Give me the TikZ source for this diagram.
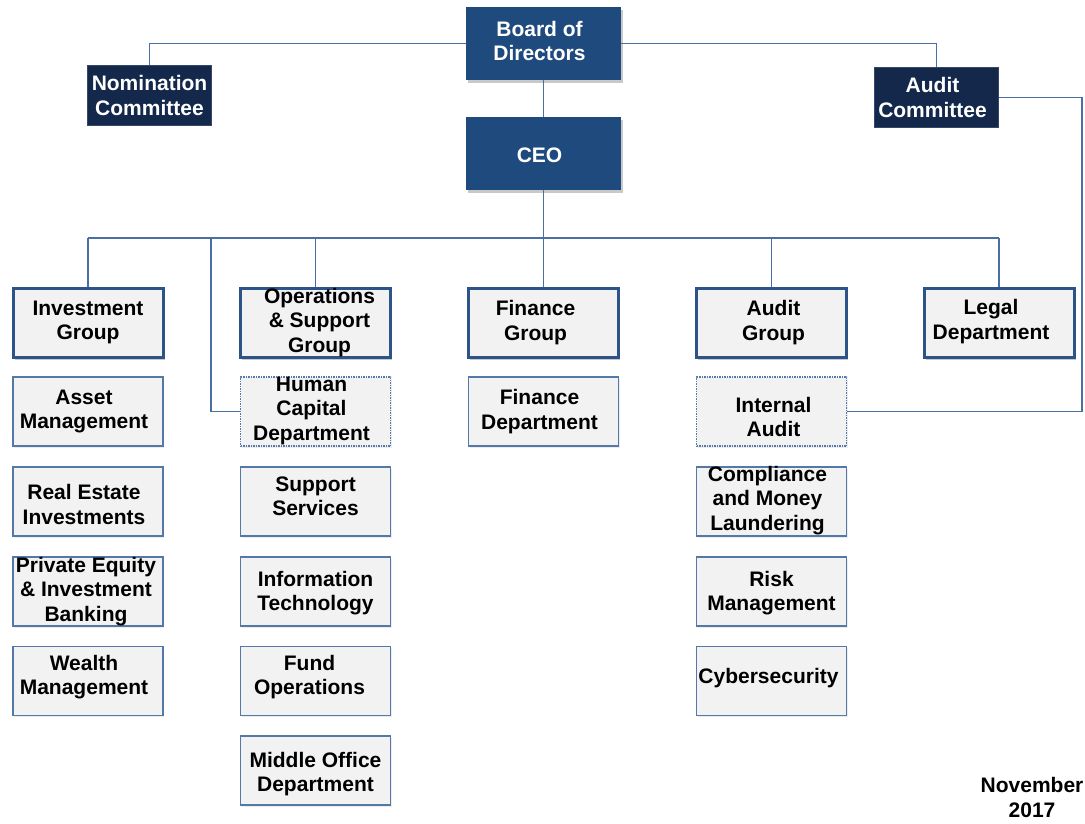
\documentclass[tikz,border=0pt]{standalone}
\usepackage{fontspec}
\setmainfont{Liberation Sans}
\usetikzlibrary{shadows}
\definecolor{bluedark}{HTML}{1F4A7E}
\definecolor{navy}{HTML}{13284A}
\definecolor{navyedge}{HTML}{34496A}
\definecolor{grpborder}{HTML}{2D5489}
\definecolor{thinborder}{HTML}{5479A8}
\definecolor{boxfill}{HTML}{F2F2F2}
\definecolor{linec}{HTML}{4A6FA5}
\begin{document}
\begin{tikzpicture}[x=1pt,y=-1pt,
  lbl/.style={align=center,font=\bfseries\fontsize{21}{24.5}\selectfont,inner sep=0pt,text=black},
  wlbl/.style={lbl,text=white},
  base/.style={rectangle,inner sep=0pt,minimum width=150pt,minimum height=69pt},
  shad/.style={drop shadow={shadow xshift=1.5pt,shadow yshift=-2.5pt,opacity=0.3,fill=black!70}},
  lshad/.style={drop shadow={shadow xshift=1pt,shadow yshift=-1.5pt,opacity=0.12,fill=black!60}},
  topbox/.style={base,fill=bluedark,minimum width=155pt,minimum height=73pt,shad},
  comm/.style={base,fill=navy,draw=navyedge,line width=1pt,minimum width=124pt,minimum height=60pt},
  grp/.style={base,fill=boxfill,draw=grpborder,line width=3pt,shad},
  sub/.style={base,fill=boxfill,draw=thinborder,line width=1.5pt,lshad},
  dotbox/.style={sub,densely dotted},
  conn/.style={draw=linec,line width=1.5pt}
]
\useasboundingbox (0,0) rectangle (1085,823);

\coordinate (bus) at (0,238);
\coordinate (hcx) at (211,238);
\coordinate (rc) at (1082,0);

% top level
\node[topbox,label={[wlbl,xshift=-4pt,yshift=2.5pt]center:{Board of\\Directors}}] (bod) at (543.5,43.5) {};
\node[topbox,label={[wlbl,xshift=-4pt,yshift=-1.5pt]center:{CEO}}] (ceo) at (543.5,153.5) {};
\node[comm,label={[wlbl]center:{Nomination\\Committee}}] (nc) at (149.5,95.5) {};
\node[comm,label={[wlbl,xshift=-4pt]center:{Audit\\Committee}}] (ac) at (936.5,97.5) {};

% groups
\node[grp,label={[lbl]center:{Investment\\Group}}] (ig) at (88,322.5) {};
\node[grp,label={[lbl,xshift=4pt]center:{Operations\\\& Support\\Group}}] (og) at (315.5,322.5) {};
\node[grp,label={[lbl,xshift=-8pt]center:{Finance\\Group}}] (fg) at (543.5,322.5) {};
\node[grp,label={[lbl,xshift=2pt]center:{Audit\\Group}}] (ag) at (771.5,322.5) {};
\node[grp,label={[lbl,xshift=-8pt,yshift=1pt]center:{Legal\\Department}}] (lg) at (999,322.5) {};

% row 3
\node[sub,label={[lbl,xshift=-4pt]center:{Asset\\Management}}] (am) at (88,411.5) {};
\node[dotbox,label={[lbl,xshift=-4pt,yshift=1pt]center:{Human\\Capital\\Department}}] (hc) at (315.5,411.5) {};
\node[sub,label={[lbl,xshift=-4pt]center:{Finance\\Department}}] (fd) at (543.5,411.5) {};
\node[dotbox,label={[lbl,xshift=2pt,yshift=-5.5pt]center:{Internal\\Audit}}] (ia) at (771.5,411.5) {};

% row 4
\node[sub,label={[lbl,xshift=-4pt,yshift=-3pt]center:{Real Estate\\Investments}}] (re) at (88,501.5) {};
\node[sub,label={[lbl,yshift=5pt]center:{Support\\Services}}] (ss) at (315.5,501.5) {};
\node[sub,label={[lbl,xshift=-4pt,yshift=1pt]center:{Compliance\\and Money\\Laundering}}] (cm) at (771.5,501.5) {};

% row 5
\node[sub,label={[lbl,xshift=-2pt]center:{Private Equity\\\& Investment\\Banking}}] (pe) at (88,591.5) {};
\node[sub,label={[lbl,yshift=-1.5pt]center:{Information\\Technology}}] (it) at (315.5,591.5) {};
\node[sub,label={[lbl,yshift=-1.5pt]center:{Risk\\Management}}] (rm) at (771.5,591.5) {};

% row 6
\node[sub,label={[lbl,xshift=-4pt,yshift=4pt]center:{Wealth\\Management}}] (wm) at (88,681) {};
\node[sub,label={[lbl,xshift=-6pt,yshift=4pt]center:{Fund\\Operations}}] (fo) at (315.5,681) {};
\node[sub,label={[lbl,xshift=-3pt,yshift=2.5pt]center:{Cybersecurity}}] (cy) at (771.5,681) {};

% row 7
\node[sub,label={[lbl,yshift=-3.5pt]center:{Middle Office\\Department}}] (mo) at (315.5,770.5) {};

% date
\node[lbl] (date) at (1032,797.5) {November\\2017};

% connectors
\draw[conn] (bod.west) -| (nc.north);
\draw[conn] (bod.east) -| (ac.north);
\draw[conn] (bod.south) -- (ceo.north);
\draw[conn] (ceo.south) -- (ceo.south |- bus);
\draw[conn] (ig.north |- bus) -- (lg.north |- bus);
\draw[conn] (ig.north |- bus) -- (ig.north);
\draw[conn] (og.north |- bus) -- (og.north);
\draw[conn] (fg.north |- bus) -- (fg.north);
\draw[conn] (ag.north |- bus) -- (ag.north);
\draw[conn] (lg.north |- bus) -- (lg.north);
\draw[conn] (hcx) |- (hc.west);
\draw[conn] (ac.east) -| (rc |- ia.east) -- (ia.east);
\end{tikzpicture}
\end{document}
